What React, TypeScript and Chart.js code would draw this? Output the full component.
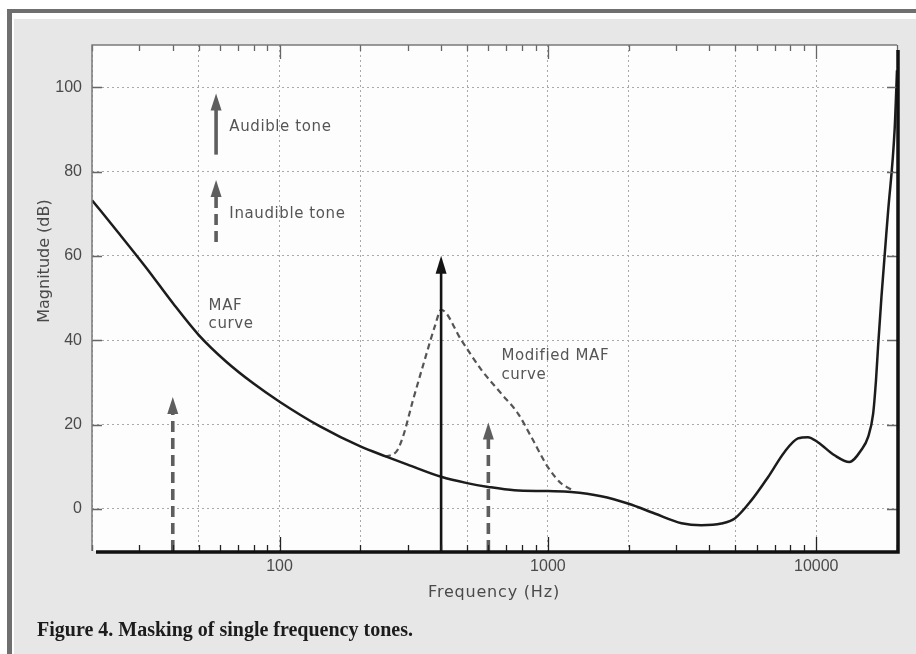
import React, { useEffect, useRef } from "react";
import { Chart, registerables } from "chart.js";

Chart.register(...registerables);

// ---- Data ----
// MAF (minimum audible field) curve: frequency (Hz) / magnitude (dB)
const mafFreq = [20, 25, 32, 40, 50, 63, 80, 100, 141, 200, 250, 300, 400, 500, 600, 750, 1000, 1220, 1580, 2000, 2500, 3150, 3730, 4430, 4970, 5730, 6610, 7620, 8550, 9310, 10140, 11700, 13300, 14700, 15600, 16300, 16700, 17000, 17500, 18500, 19600, 20000];
const mafDb = [73.2, 65.6, 57.0, 48.8, 41.2, 35.0, 29.7, 25.4, 19.6, 14.8, 12.4, 10.5, 7.6, 6.1, 5.2, 4.4, 4.2, 4.0, 3.0, 1.2, -1.1, -3.4, -3.9, -3.5, -2.3, 2.0, 7.5, 13.5, 16.7, 17.0, 15.8, 12.7, 11.1, 13.9, 17.0, 22.6, 30.5, 38.4, 50.2, 70.0, 90.0, 104.0];

// Modified MAF curve around the 400 Hz masking tone
const modFreq = [247, 272, 288, 314, 347, 380, 400, 476, 566, 671, 774, 868, 1000, 1122, 1222];
const modDb = [12.4, 13.5, 17.0, 25.7, 35.2, 43.5, 47.2, 40.0, 32.9, 27.3, 22.6, 17.0, 9.9, 6.0, 4.6];

// Tone arrows: frequency, tip (dB), tail (dB), style
const arrowFreq = [58, 58, 40, 400, 600];
const arrowTipDb = [98.5, 78.0, 26.5, 60.0, 20.5];
const arrowTailDb = [84.0, 63.3, -10, -10, -10];
const arrowKind = ["solid-gray", "dashed-gray", "dashed-gray", "solid-black", "dashed-gray"];

// Text annotations anchored at frequency / dB (left edge, vertical middle)
const noteText = ["Audible tone", "Inaudible tone", "MAF", "curve", "Modified MAF", "curve"];
const noteFreq = [65, 65, 54.4, 54.4, 671, 671];
const noteDb = [90.5, 69.9, 48.0, 43.8, 36.2, 31.7];

// Axis ticks
const xTickValues = [20, 30, 40, 50, 60, 70, 80, 90, 100, 200, 300, 400, 500, 600, 700, 800, 900, 1000, 2000, 3000, 4000, 5000, 6000, 7000, 8000, 9000, 10000, 20000];
const xGridValues = [20, 50, 100, 200, 500, 1000, 2000, 5000, 10000, 20000];
const xLabelValues = [100, 1000, 10000];
const yTickValues = [0, 20, 40, 60, 80, 100];

const xTitle = "Frequency (Hz)";
const yTitle = "Magnitude (dB)";
const caption = "Figure 4. Masking of single frequency tones.";

function drawArrow(ctx: CanvasRenderingContext2D, x: number, yTip: number, yTail: number, kind: string) {
  const black = kind === "solid-black";
  const dashed = kind.startsWith("dashed");
  const color = black ? "#141414" : "#5e5e5e";
  const headH = black ? 18 : 17;
  const headW = 11;
  ctx.save();
  ctx.strokeStyle = color;
  ctx.lineWidth = black ? 2.6 : 3.6;
  ctx.lineCap = "butt";
  ctx.setLineDash(dashed ? [11, 6] : []);
  ctx.beginPath();
  ctx.moveTo(x, yTail);
  ctx.lineTo(x, yTip + headH - 3);
  ctx.stroke();
  ctx.setLineDash([]);
  ctx.fillStyle = color;
  ctx.beginPath();
  ctx.moveTo(x, yTip);
  ctx.lineTo(x - headW / 2, yTip + headH);
  ctx.lineTo(x + headW / 2, yTip + headH);
  ctx.closePath();
  ctx.fill();
  ctx.restore();
}

const decorPlugin = {
  id: "decor",
  beforeDraw(chart: any) {
    const ctx: CanvasRenderingContext2D = chart.ctx;
    const { width, height } = chart;
    const a = chart.chartArea;
    ctx.save();
    ctx.fillStyle = "#ffffff";
    ctx.fillRect(0, 0, width, height);
    ctx.fillStyle = "#e7e7e7";
    ctx.fillRect(14, 19, width - 14, height - 19);
    ctx.fillStyle = "#6f6f6f";
    ctx.fillRect(7, 9, width - 7, 4);
    ctx.fillRect(7, 9, 5, height - 9);
    ctx.fillStyle = "#fdfdfd";
    ctx.fillRect(a.left, a.top, a.right - a.left, a.bottom - a.top);
    ctx.restore();
  },
  afterDatasetsDraw(chart: any) {
    const ctx: CanvasRenderingContext2D = chart.ctx;
    const xs = chart.scales.x;
    const ys = chart.scales.y;
    for (let i = 0; i < arrowFreq.length; i++) {
      drawArrow(
        ctx,
        xs.getPixelForValue(arrowFreq[i]),
        ys.getPixelForValue(arrowTipDb[i]),
        ys.getPixelForValue(arrowTailDb[i]),
        arrowKind[i]
      );
    }
    ctx.save();
    ctx.fillStyle = "#555555";
    ctx.font = '15px "DejaVu Sans"';
    (ctx as any).letterSpacing = "0.6px";
    ctx.textAlign = "left";
    ctx.textBaseline = "middle";
    for (let i = 0; i < noteText.length; i++) {
      ctx.fillText(noteText[i], xs.getPixelForValue(noteFreq[i]), ys.getPixelForValue(noteDb[i]));
    }
    ctx.restore();
  },
  afterDraw(chart: any) {
    const ctx: CanvasRenderingContext2D = chart.ctx;
    const a = chart.chartArea;
    const xs = chart.scales.x;
    const ys = chart.scales.y;
    ctx.save();
    // inward tick marks
    ctx.lineWidth = 1.3;
    for (const v of xTickValues) {
      const px = Math.round(xs.getPixelForValue(v)) + 0.5;
      const len = xLabelValues.includes(v) ? 14 : 6;
      ctx.strokeStyle = "#222222";
      ctx.beginPath();
      ctx.moveTo(px, a.bottom);
      ctx.lineTo(px, a.bottom - len);
      ctx.stroke();
      ctx.strokeStyle = "#666666";
      ctx.beginPath();
      ctx.moveTo(px, a.top);
      ctx.lineTo(px, a.top + len);
      ctx.stroke();
    }
    for (const v of yTickValues) {
      const py = Math.round(ys.getPixelForValue(v)) + 0.5;
      ctx.strokeStyle = "#666666";
      ctx.beginPath();
      ctx.moveTo(a.left, py);
      ctx.lineTo(a.left + 10, py);
      ctx.moveTo(a.right, py);
      ctx.lineTo(a.right - 10, py);
      ctx.stroke();
    }
    // frame: thin gray left/top, thick black bottom/right
    ctx.strokeStyle = "#7a7a7a";
    ctx.lineWidth = 1.5;
    ctx.beginPath();
    ctx.moveTo(a.left, a.bottom);
    ctx.lineTo(a.left, a.top);
    ctx.lineTo(a.right, a.top);
    ctx.stroke();
    ctx.strokeStyle = "#111111";
    ctx.lineWidth = 3.5;
    ctx.beginPath();
    ctx.moveTo(a.left + 4, a.bottom + 1);
    ctx.lineTo(a.right + 1, a.bottom + 1);
    ctx.lineTo(a.right + 1, a.top + 5);
    ctx.stroke();
    // axis titles
    ctx.fillStyle = "#4a4a4a";
    ctx.font = '16px "DejaVu Sans"';
    (ctx as any).letterSpacing = "0.8px";
    ctx.textAlign = "center";
    ctx.textBaseline = "middle";
    ctx.fillText(xTitle, 494, 593);
    ctx.save();
    ctx.translate(45, 261);
    ctx.rotate(-Math.PI / 2);
    (ctx as any).letterSpacing = "0px";
    ctx.fillText(yTitle, 0, 0);
    ctx.restore();
    // caption
    (ctx as any).letterSpacing = "0px";
    ctx.fillStyle = "#1c1c1c";
    ctx.font = 'bold 20px "Liberation Serif"';
    ctx.textAlign = "left";
    ctx.textBaseline = "alphabetic";
    ctx.fillText(caption, 37, 636);
    ctx.restore();
  },
};

export default function App() {
  const canvasRef = useRef<HTMLCanvasElement | null>(null);

  useEffect(() => {
    const canvas = canvasRef.current;
    if (!canvas) return;
    const chart = new Chart(canvas, {
      type: "line",
      data: {
        datasets: [
          {
            label: "MAF curve",
            data: mafFreq.map((f, i) => ({ x: f, y: mafDb[i] })),
            borderColor: "#1c1c1c",
            borderWidth: 2.5,
            pointRadius: 0,
            cubicInterpolationMode: "monotone",
            fill: false,
          },
          {
            label: "Modified MAF curve",
            data: modFreq.map((f, i) => ({ x: f, y: modDb[i] })),
            borderColor: "#555555",
            borderWidth: 2.2,
            borderDash: [6, 4],
            pointRadius: 0,
            cubicInterpolationMode: "monotone",
            fill: false,
          },
        ],
      },
      options: {
        animation: false,
        responsive: false,
        events: [],
        devicePixelRatio: 1,
        layout: { padding: { left: 0, top: 45, right: 19, bottom: 41 } },
        plugins: { legend: { display: false }, tooltip: { enabled: false } },
        scales: {
          x: {
            type: "logarithmic",
            min: 20,
            max: 20000,
            afterBuildTicks: (s: any) => {
              s.ticks = xTickValues.map((v) => ({ value: v }));
            },
            afterFit: (s: any) => {
              s.height = 62;
            },
            grid: {
              drawTicks: false,
              lineWidth: 1,
              color: (c: any) => (c.tick && xGridValues.includes(c.tick.value) ? "#a9a9a9" : "rgba(0,0,0,0)"),
            },
            border: { display: false, dash: [2, 3] },
            ticks: {
              autoSkip: false,
              maxRotation: 0,
              minRotation: 0,
              padding: 6,
              color: "#4a4a4a",
              font: { family: "Liberation Sans", size: 16 },
              callback: (v: any) => (xLabelValues.includes(Number(v)) ? String(v) : ""),
            },
          },
          y: {
            type: "linear",
            min: -10,
            max: 110,
            afterBuildTicks: (s: any) => {
              s.ticks = yTickValues.map((v) => ({ value: v }));
            },
            afterFit: (s: any) => {
              s.width = 92;
            },
            grid: { drawTicks: false, lineWidth: 1, color: "#a9a9a9" },
            border: { display: false, dash: [2, 3] },
            ticks: {
              padding: 10,
              color: "#4a4a4a",
              font: { family: "Liberation Sans", size: 16 },
              callback: (v: any) => String(v),
            },
          },
        },
      },
      plugins: [decorPlugin],
    } as any);
    return () => chart.destroy();
  }, []);

  return (
    <div style={{ position: "fixed", left: 0, top: 0, width: 916, height: 654 }}>
      <canvas ref={canvasRef} width={916} height={654} style={{ display: "block", width: 916, height: 654 }} />
    </div>
  );
}
